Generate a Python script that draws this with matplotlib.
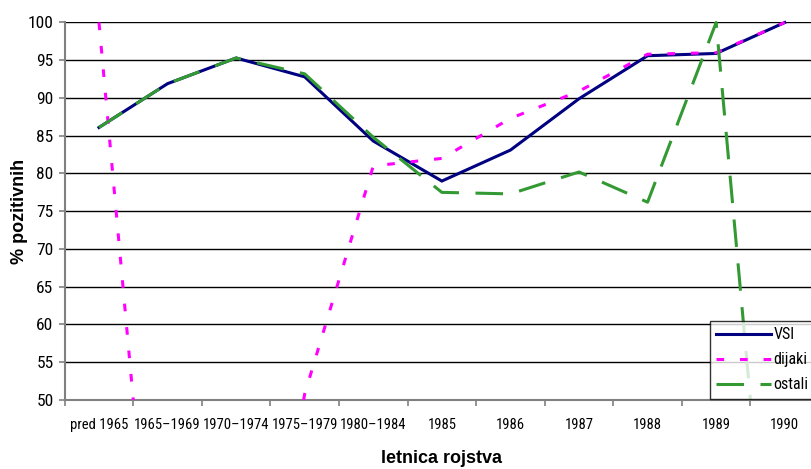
import matplotlib
matplotlib.use("Agg")
import matplotlib.pyplot as plt
from matplotlib import font_manager as fm
from matplotlib.patches import Rectangle
from matplotlib.ticker import FixedLocator

categories = ["pred 1965", "1965–1969", "1970–1974", "1975–1979", "1980–1984",
              "1985", "1986", "1987", "1988", "1989", "1990"]
vsi = [86.1, 91.9, 95.3, 92.8, 84.3, 79.0, 83.1, 89.9, 95.6, 95.9, 100.0]
dijaki = [100.0, 0.0, 0.0, 50.8, 81.0, 82.0, 87.3, 90.9, 95.8, 96.0, 100.0]
ostali = [86.1, 91.9, 95.3, 93.2, 84.8, 77.5, 77.3, 80.2, 76.2, 100.0, 0.0]
yticks = [50, 55, 60, 65, 70, 75, 80, 85, 90, 95, 100]


def pick_narrow():
    pref = ["Liberation Sans Narrow", "Arial Narrow", "Roboto Condensed",
            "Open Sans Condensed", "DejaVu Sans Condensed"]
    fl = fm.fontManager.ttflist
    for p in pref:
        for f in fl:
            if f.name == p and f.weight in (400, "normal", "regular") and f.style == "normal":
                return fm.FontProperties(fname=f.fname)
    for f in fl:
        if str(f.stretch) in ("condensed", "semi-condensed") and f.style == "normal" \
                and f.weight in (400, "normal", "regular") and "Mono" not in f.name \
                and "Serif" not in f.name:
            return fm.FontProperties(fname=f.fname)
    for f in fl:
        low = f.fname.lower()
        if ("condensed" in low or "narrow" in low) and "bold" not in low and "italic" not in low \
                and "oblique" not in low and "mono" not in low and "serif" not in low:
            return fm.FontProperties(fname=f.fname)
    return None


nfp = pick_narrow()
base = "Liberation Sans"

W, H = 811, 469
fig = plt.figure(figsize=(W / 100, H / 100), dpi=100)
left, right, top, bottom = 64.7, 819.0, 22.5, 400.0
ax = fig.add_axes([left / W, 1 - bottom / H, (right - left) / W, (bottom - top) / H])

x = list(range(len(categories)))
lw = 2.2
l1, = ax.plot(x, vsi, color="#000080", lw=lw, solid_joinstyle="miter", label="VSI", zorder=5)
l2, = ax.plot(x, dijaki, color="#FF00FF", lw=lw, dashes=(2.5, 5.2), dash_capstyle="butt",
              label="dijaki", zorder=6)
l3, = ax.plot(x, ostali, color="#339933", lw=lw, dashes=(9, 5.4), dash_capstyle="butt",
              label="ostali", zorder=7)

clip = Rectangle((0, 0), 1, 1.02, transform=ax.transAxes, facecolor="none", edgecolor="none")
ax.add_patch(clip)
for ln in (l1, l2, l3):
    ln.set_clip_path(clip)

ax.set_xlim(-0.5, len(categories) - 0.5)
ax.set_ylim(50, 100)


def fp(size):
    if nfp is not None:
        p = nfp.copy()
        p.set_size(size)
        return p
    return fm.FontProperties(family=base, size=size * 0.85)


ax.set_yticks(yticks)
ax.set_yticklabels([str(v) for v in yticks], fontproperties=fp(12.5))
ax.yaxis.grid(True, color="#000000", lw=1.0)
ax.set_axisbelow(True)

ax.xaxis.set_major_locator(FixedLocator(x))
ax.set_xticklabels(categories, fontproperties=fp(10.5))
ax.xaxis.set_minor_locator(FixedLocator([i - 0.5 for i in range(len(categories) + 1)]))
ax.tick_params(axis="x", which="major", length=0, pad=13)
ax.tick_params(axis="x", which="minor", length=4.5, width=1.2, color="#808080", direction="out")
ax.tick_params(axis="y", which="major", length=4.5, width=1.2, color="#808080", direction="out", pad=3.5)

for s in ("top", "right"):
    ax.spines[s].set_visible(False)
for s in ("left", "bottom"):
    ax.spines[s].set_color("#808080")
    ax.spines[s].set_linewidth(1.5)

ax.set_xlabel("letnica rojstva", fontfamily=base, fontweight="bold", fontsize=13, labelpad=13)
ax.set_ylabel("% pozitivnih", fontfamily=base, fontweight="bold", fontsize=13)
ax.yaxis.set_label_coords((19.5 - left) / (right - left), 0.5)
ax.yaxis.label.set_verticalalignment("center")

leg = fig.legend(handles=[l1, l2, l3], loc="upper left",
                 bbox_to_anchor=(710 / W, 1 - 321 / H), bbox_transform=fig.transFigure,
                 prop=fp(11.5), frameon=True, fancybox=False,
                 handlelength=3.45, handletextpad=0.12, labelspacing=0.62,
                 borderpad=0.4, borderaxespad=0)
leg.get_frame().set_edgecolor("#000000")
leg.get_frame().set_linewidth(1.0)

fig.savefig("out.png", dpi=100)
